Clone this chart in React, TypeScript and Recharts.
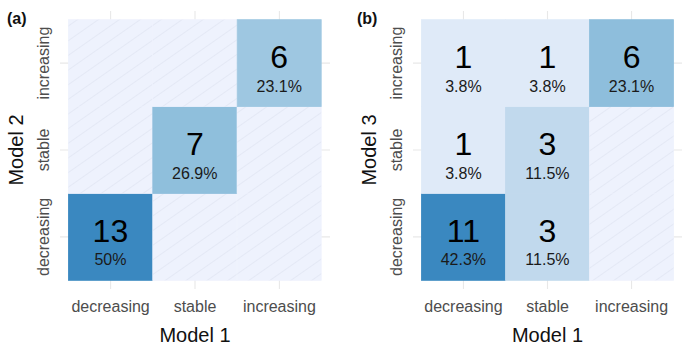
import React from 'react'
import { BarChart, Bar, XAxis, YAxis, CartesianGrid } from 'recharts'

// categories (x = Model 1, stacked rows = Model 2 / Model 3)
const categories = ['decreasing', 'stable', 'increasing']

// panel (a): Model 2 vs Model 1, counts per Model 1 category
const aDecreasing = [13, 0, 0]
const aStable = [0, 7, 0]
const aIncreasing = [0, 0, 6]

// panel (b): Model 3 vs Model 1
const bDecreasing = [11, 3, 0]
const bStable = [1, 3, 0]
const bIncreasing = [1, 1, 6]

const yTicks = [0.5, 1.5, 2.5]
const yTickLabels = ['decreasing', 'stable', 'increasing']

const FONT = '"Liberation Sans", Arial, sans-serif'
const EMPTY = '#eef2fd'

// colour stops, t = count / max
const stops: [number, number[]][] = [
  [0, [238, 242, 253]],
  [0.27, [194, 217, 237]],
  [0.54, [143, 191, 220]],
  [1, [58, 136, 192]]
]

function fillFor(count: number, max: number) {
  const t = count / max
  for (let i = 1; i < stops.length; i++) {
    const [t1, c1] = stops[i]
    const [t0, c0] = stops[i - 1]
    if (t <= t1) {
      const f = (t - t0) / (t1 - t0)
      const c = c0.map((v, k) => Math.round(v + (c1[k] - v) * f))
      return `rgb(${c[0]},${c[1]},${c[2]})`
    }
  }
  return 'rgb(58,136,192)'
}

function buildData(dec: number[], sta: number[], inc: number[]) {
  return categories.map((name, i) => ({
    name,
    dec: 1,
    sta: 1,
    inc: 1,
    decN: dec[i],
    staN: sta[i],
    incN: inc[i]
  }))
}

function makeTile(key: string, total: number, max: number) {
  return (p: any) => {
    const { x, y, width, height, payload } = p
    const n = payload[key + 'N']
    const cx = x + width / 2
    const cy = y + height / 2
    if (!n) {
      return (
        <g>
          <rect x={x} y={y} width={width} height={height} fill={EMPTY} stroke={EMPTY} strokeWidth={0.8} />
          <rect x={x} y={y} width={width} height={height} fill="url(#hatch)" />
        </g>
      )
    }
    const pct = Math.round((n / total) * 1000) / 10
    const fill = fillFor(n, max)
    return (
      <g>
        <rect x={x} y={y} width={width} height={height} fill={fill} stroke={fill} strokeWidth={0.8} />
        <text x={cx} y={cy + 5} textAnchor="middle" fontSize={32} fill="#000" fontFamily={FONT}>
          {n}
        </text>
        <text x={cx} y={cy + 28.5} textAnchor="middle" fontSize={16} fill="#1a1a1a" fontFamily={FONT}>
          {pct}%
        </text>
      </g>
    )
  }
}

function Panel({ data, yTitle, yTickX, yAxisWidth, right }: any) {
  const all = data.flatMap((d: any) => [d.decN, d.staN, d.incN])
  const total = all.reduce((s: number, v: number) => s + v, 0)
  const max = Math.max(...all)
  return (
    <BarChart
      width={344}
      height={359}
      data={data}
      margin={{ top: 11, right, bottom: 0, left: 0 }}
      barCategoryGap={0}
      barGap={0}
    >
      <CartesianGrid stroke="#e8e8e8" strokeWidth={1.1} syncWithTicks />
      <XAxis
        dataKey="name"
        height={70}
        axisLine={false}
        tickLine={false}
        padding={{ left: 8.4, right: 8.4 }}
        tick={(t: any) => (
          <text x={t.x} y={312} textAnchor="middle" fontSize={16} fill="#4d4d4d" fontFamily={FONT}>
            {t.payload.value}
          </text>
        )}
        label={{
          value: 'Model 1',
          content: (l: any) => {
            const vb = l.viewBox
            return (
              <text x={vb.x + vb.width / 2} y={342} textAnchor="middle" fontSize={20} fill="#111" fontFamily={FONT}>
                Model 1
              </text>
            )
          }
        }}
      />
      <YAxis
        type="number"
        domain={[-0.1, 3.1]}
        ticks={yTicks}
        width={yAxisWidth}
        axisLine={false}
        tickLine={false}
        tick={(t: any) => (
          <text
            x={yTickX}
            y={t.y}
            transform={`rotate(-90 ${yTickX} ${t.y})`}
            textAnchor="middle"
            fontSize={16}
            fill="#4d4d4d"
            fontFamily={FONT}
          >
            {yTickLabels[yTicks.indexOf(t.payload.value)]}
          </text>
        )}
        label={{
          value: yTitle,
          content: (l: any) => {
            const vb = l.viewBox
            const cy = vb.y + vb.height / 2
            const tx = yTickX - 26
            return (
              <text x={tx} y={cy} transform={`rotate(-90 ${tx} ${cy})`} textAnchor="middle" fontSize={20} fill="#111" fontFamily={FONT}>
                {yTitle}
              </text>
            )
          }
        }}
      />
      <Bar dataKey="dec" stackId="s" isAnimationActive={false} shape={makeTile('dec', total, max)} />
      <Bar dataKey="sta" stackId="s" isAnimationActive={false} shape={makeTile('sta', total, max)} />
      <Bar dataKey="inc" stackId="s" isAnimationActive={false} shape={makeTile('inc', total, max)} />
    </BarChart>
  )
}

export default function App() {
  const dataA = buildData(aDecreasing, aStable, aIncreasing)
  const dataB = buildData(bDecreasing, bStable, bIncreasing)
  return (
    <div style={{ position: 'absolute', left: 0, top: 0, width: 688, height: 359, background: '#fff' }}>
      <svg width={0} height={0} style={{ position: 'absolute' }}>
        <defs>
          <pattern id="hatch" patternUnits="userSpaceOnUse" width={12} height={12} patternTransform="rotate(55)">
            <line x1={0} y1={0} x2={0} y2={12} stroke="#d6dae9" strokeWidth={0.8} />
          </pattern>
        </defs>
      </svg>
      <div style={{ position: 'absolute', left: 0, top: 0 }}>
        <Panel data={dataA} yTitle="Model 2" yTickX={48.5} yAxisWidth={60} right={14} />
      </div>
      <div style={{ position: 'absolute', left: 344, top: 0 }}>
        <Panel data={dataB} yTitle="Model 3" yTickX={57.5} yAxisWidth={69} right={6} />
      </div>
      <svg width={688} height={359} style={{ position: 'absolute', left: 0, top: 0, pointerEvents: 'none' }}>
        <text x={7} y={24} fontSize={16} fontWeight="bold" fill="#111" fontFamily={FONT}>(a)</text>
        <text x={357} y={24} fontSize={16} fontWeight="bold" fill="#111" fontFamily={FONT}>(b)</text>
      </svg>
    </div>
  )
}
